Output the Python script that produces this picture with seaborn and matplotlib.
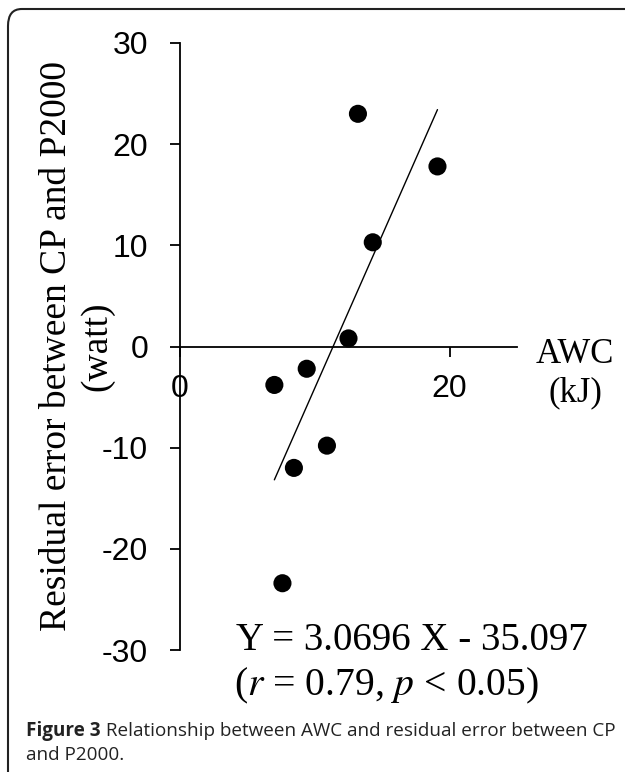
import matplotlib
matplotlib.use('Agg')
import matplotlib.pyplot as plt
import seaborn as sns
import pandas as pd
from matplotlib.patches import FancyBboxPatch

# ---- data ----
awc_kj = [7.0, 7.6, 8.45, 9.4, 10.9, 12.5, 13.2, 14.3, 19.1]
residual_w = [-3.8, -23.4, -12.0, -2.2, -9.8, 0.8, 23.0, 10.3, 17.8]
y_ticks = [-30, -20, -10, 0, 10, 20, 30]
y_tick_labels = ['-30', '-20', '-10', '0', '10', '20', '30']
x_ticks = [0, 20]
x_tick_labels = ['0', '20']
y_label_line1 = "Residual error between CP and P2000"
y_label_line2 = "(watt)"
x_label = "AWC\n(kJ)"
equation_text = "Y = 3.0696 X - 35.097"
stats_text = r"($r$ = 0.79, $p$ < 0.05)"
caption_bold = "Figure 3"
caption_rest = " Relationship between AWC and residual error between CP"
caption_line2 = "and P2000."

sns.set_theme(style='white')
plt.rcParams['font.family'] = ['Liberation Sans', 'DejaVu Sans']
plt.rcParams['mathtext.fontset'] = 'stix'

W, H = 625, 772
fig = plt.figure(figsize=(W / 100, H / 100), dpi=100)
fig.patch.set_facecolor('white')

ax = fig.add_axes([180 / W, 1 - 650 / H, 337 / W, (650 - 43) / H])
ax.set_facecolor('none')
df = pd.DataFrame({'AWC': awc_kj, 'Residual': residual_w})
sns.regplot(data=df, x='AWC', y='Residual', ax=ax, ci=None, truncate=True,
            scatter_kws=dict(s=170, color='black', edgecolor='none', alpha=1, zorder=3),
            line_kws=dict(color='black', lw=1.0, zorder=2))
ax.set_xlim(0, 25)
ax.set_ylim(-30, 30)
ax.spines['bottom'].set_position(('data', 0))
ax.spines['top'].set_visible(False)
ax.spines['right'].set_visible(False)
for s in ('left', 'bottom'):
    ax.spines[s].set_color('black')
    ax.spines[s].set_linewidth(1.3)
ax.set_xticks(x_ticks, x_tick_labels)
ax.set_yticks(y_ticks, y_tick_labels)
ax.tick_params(axis='y', direction='out', length=7, width=1.3, pad=16,
               labelsize=23, left=True, colors='black')
ax.tick_params(axis='x', direction='out', length=7, width=1.3, pad=13,
               labelsize=23, bottom=True, colors='black')
ax.set_xlabel('')
ax.set_ylabel('')

serif = ['Liberation Serif', 'DejaVu Serif']
fig.text(57 / W, 1 - 346 / H, y_label_line1, rotation=90, ha='center', va='center',
         fontsize=27, family=serif, color='black')
fig.text(97 / W, 1 - 346 / H, y_label_line2, rotation=90, ha='center', va='center',
         fontsize=27, family=serif, color='black')
fig.text(575 / W, 1 - 374 / H, x_label, ha='center', va='center',
         multialignment='center', fontsize=25, family=serif, linespacing=1.22,
         color='black')
fig.text(236 / W, 1 - 640 / H, equation_text, ha='left', va='center',
         fontsize=28, family=serif, color='black')
fig.text(234 / W, 1 - 686 / H, stats_text, ha='left', va='center',
         fontsize=28.5, family=serif, color='black')

cap = ['Open Sans', 'DejaVu Sans']
t1 = fig.text(26 / W, 1 - 731 / H, caption_bold, ha='left', va='center',
              fontsize=13.6, family=cap, weight='bold', color='#222222')
ax.annotate(caption_rest, xy=(1, 0.5), xycoords=t1, va='center', ha='left',
            fontsize=13.6, family=cap, color='#222222', annotation_clip=False)
fig.text(26 / W, 1 - 755 / H, caption_line2, ha='left', va='center',
         fontsize=13.6, family=cap, color='#222222')

box = FancyBboxPatch((8 / W, -30 / H), (W + 20) / W, (H + 30 - 9) / H,
                     boxstyle='round,pad=0,rounding_size=0.022',
                     transform=fig.transFigure, fill=False,
                     edgecolor='#222222', linewidth=1.5, clip_on=False)
fig.patches.append(box)

fig.savefig('out.png', dpi=100, facecolor='white')
